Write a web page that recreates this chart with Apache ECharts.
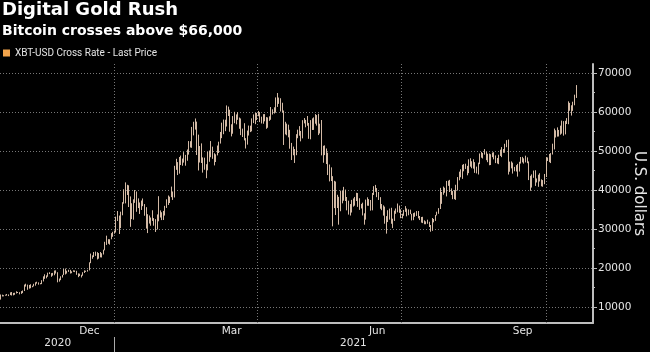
<!DOCTYPE html>
<html>
<head>
<meta charset="utf-8">
<title>Digital Gold Rush</title>
<script src="https://cdn.jsdelivr.net/npm/echarts@6/dist/echarts.min.js"></script>
<style>
  html, body { margin: 0; padding: 0; background: #000; }
  #main { width: 650px; height: 352px; }
</style>
</head>
<body>
<div id="main"></div>
<script>
  // XBT-USD daily bars, thousands of US dollars, 21 Oct 2020 .. 20 Oct 2021
  const firstDay = '2020-10-21'
  const lastAxisDay = '2021-10-30'
  const prevClose = 11.92

  const closeK = [
    12.82,12.97,12.93,13.11,13.03,13.08,13.65,13.27,13.44,13.55,13.78,
    13.74,13.55,14.02,14.13,15.58,15.57,14.83,15.48,15.33,15.29,15.70,16.28,16.32,16.07,15.96,16.72,17.65,17.80,17.82,18.62,18.64,18.37,18.36,19.11,18.73,17.15,17.11,17.72,18.18,19.63,
    18.80,19.20,19.45,18.70,19.15,19.35,19.19,18.32,18.55,18.26,18.06,18.80,19.14,19.25,19.42,21.31,22.81,23.14,23.87,23.48,22.80,23.78,23.24,23.73,24.66,26.44,26.27,27.08,27.36,28.84,29.00,
    29.37,32.13,32.78,31.97,33.99,36.82,39.37,40.80,40.25,38.36,35.57,33.92,37.32,39.19,36.83,36.18,35.79,36.63,36.07,35.55,30.83,33.01,32.07,32.29,32.37,32.57,30.43,33.47,34.32,34.27,33.11,
    33.54,35.51,37.47,36.93,38.14,39.27,38.90,46.20,46.48,44.92,47.91,47.51,47.11,48.72,47.95,49.20,52.15,51.68,55.89,56.10,57.54,54.21,48.83,49.71,47.09,46.34,46.19,45.14,
    49.63,48.38,50.54,48.56,48.93,48.91,51.21,52.25,54.82,56.01,57.81,57.33,61.24,59.30,55.91,56.80,58.87,57.86,58.35,58.31,57.52,54.53,54.74,52.77,51.70,55.14,55.97,55.95,57.75,58.92,58.92,
    59.10,59.38,57.60,58.76,59.06,58.19,56.05,58.32,58.25,59.79,60.20,59.89,63.50,62.99,63.08,61.53,60.11,56.15,55.63,56.43,53.79,51.73,51.15,50.11,49.00,54.02,55.03,54.82,53.56,57.75,
    57.83,56.63,57.20,53.33,57.42,56.40,57.36,58.80,58.23,55.86,56.70,49.15,49.72,49.88,46.76,46.46,43.54,42.91,37.00,40.78,37.30,37.54,34.77,38.71,38.40,39.29,38.44,35.70,34.62,35.68,37.33,
    36.69,37.58,39.19,36.85,35.55,35.86,33.56,33.40,37.35,36.70,37.34,35.55,39.10,40.22,40.41,38.35,38.05,35.79,35.62,35.70,31.68,32.51,33.72,34.66,31.64,32.19,34.65,34.43,35.87,35.04,
    33.57,33.90,34.67,35.29,33.75,34.24,33.86,32.88,33.80,33.52,34.24,33.16,32.70,32.82,31.78,31.42,31.53,31.80,30.82,29.81,32.11,32.31,33.58,34.29,35.35,37.34,39.41,40.00,40.01,42.24,41.63,
    39.97,39.20,38.15,39.75,40.87,42.82,44.56,43.80,46.37,45.59,45.59,44.43,47.79,47.10,47.05,46.00,44.70,44.80,46.72,49.34,48.91,49.32,49.55,47.71,48.96,46.94,49.06,48.90,48.83,47.05,47.17,
    48.85,49.33,50.03,49.94,51.75,52.63,46.81,46.09,46.39,44.88,45.20,46.06,44.96,47.09,48.18,47.78,47.27,48.28,47.26,42.84,40.69,43.57,44.90,42.84,42.72,43.21,42.24,41.03,41.56,43.79,
    48.12,47.71,48.20,49.11,51.51,55.36,53.81,53.97,54.97,54.77,57.49,56.04,57.40,57.32,61.59,60.89,61.55,62.03,64.26,66.40
  ]

  const highK = [
    13.21,13.16,13.02,13.16,13.34,13.22,13.76,13.84,13.62,13.65,14.03,
    13.86,13.81,14.07,14.24,15.75,15.97,15.74,15.66,15.83,15.46,15.95,16.34,16.48,16.32,16.13,16.88,17.86,18.39,18.11,18.80,18.91,18.68,18.75,19.35,19.40,18.92,17.30,17.88,18.26,19.75,
    19.85,19.31,19.55,19.52,19.16,19.41,19.38,19.28,18.63,18.56,18.27,18.92,19.39,19.30,19.53,21.46,23.70,23.24,24.10,24.20,24.07,23.83,24.10,23.79,24.71,26.72,28.29,27.39,27.37,28.94,29.28,
    29.60,33.16,34.61,33.44,34.44,36.88,40.18,41.95,41.33,41.20,38.35,36.60,37.60,40.00,39.61,37.85,36.80,37.30,37.83,36.39,35.59,33.80,33.46,32.94,34.80,32.79,32.53,33.73,38.41,34.76,34.29,
    34.64,35.93,37.61,38.59,38.29,40.87,39.62,46.20,48.00,47.15,48.46,48.83,48.06,49.71,49.00,50.38,52.54,52.51,56.17,57.49,58.33,57.53,54.19,51.27,51.95,48.35,48.29,46.61,
    49.78,50.11,52.54,51.11,49.42,49.15,51.40,52.38,54.88,57.26,58.06,58.01,61.68,61.38,60.58,56.85,58.95,60.04,59.38,59.98,58.57,58.34,55.74,57.12,53.30,55.23,56.52,56.49,58.36,59.38,59.82,
    59.75,60.27,59.98,58.80,59.44,59.46,58.69,58.60,58.88,61.27,60.68,61.20,63.73,64.86,63.70,63.52,62.37,60.37,57.48,57.02,56.75,55.43,52.07,51.13,50.50,54.31,55.46,56.37,55.13,57.90,
    58.45,57.98,58.97,57.19,57.91,58.36,58.61,59.46,59.21,59.53,56.99,57.94,51.33,51.44,50.64,49.56,46.54,45.80,43.55,42.35,42.17,38.77,38.24,39.83,39.77,40.80,40.10,38.20,37.26,36.39,37.46,
    37.84,38.22,39.29,39.21,37.88,36.44,36.75,34.02,37.53,38.12,37.66,37.44,39.25,40.98,41.30,40.49,39.48,38.17,36.41,36.06,35.74,33.30,34.81,35.22,35.44,32.64,34.69,35.26,36.54,36.01,
    35.04,33.91,34.89,35.87,35.26,35.02,34.96,33.89,34.07,34.23,34.59,34.61,33.33,33.08,33.13,32.21,31.96,32.39,31.86,31.02,32.82,32.58,33.60,34.43,35.35,40.55,39.49,40.88,40.58,42.32,42.40,
    42.60,40.41,39.73,39.97,41.34,43.31,44.70,45.31,46.46,46.64,46.74,46.19,47.86,48.13,47.37,47.88,47.14,45.99,47.02,49.36,49.76,49.50,50.48,49.80,49.29,49.35,49.17,49.60,49.68,48.87,48.19,
    49.04,50.34,51.00,50.49,51.84,52.78,52.92,47.27,47.33,47.01,45.92,46.37,46.70,47.23,48.45,48.49,48.12,48.80,48.36,47.33,43.64,44.00,44.98,45.06,42.96,43.92,44.30,42.73,42.54,44.11,
    48.44,48.34,49.25,49.46,51.87,55.75,55.31,56.05,55.40,56.49,57.79,57.65,57.73,58.43,62.73,62.33,61.72,62.63,64.43,66.90
  ]

  const lowK = [
    11.90,12.70,12.73,12.90,12.92,12.80,13.05,12.95,12.99,13.12,13.46,
    13.59,13.24,13.36,13.56,14.09,15.23,14.42,14.71,14.81,15.07,15.28,15.47,15.99,15.72,15.82,15.87,16.55,17.22,17.35,17.75,18.45,17.75,18.03,18.14,18.58,16.33,16.50,16.88,17.55,18.18,
    18.35,18.57,19.00,18.58,18.66,19.02,18.95,18.25,17.65,17.93,17.57,18.02,18.73,19.00,19.07,19.38,21.24,22.36,22.80,23.11,22.18,22.39,22.73,22.70,23.46,24.52,25.92,26.21,25.99,27.36,28.00,
    28.80,29.09,32.05,28.72,30.22,33.51,36.49,36.57,38.72,35.63,30.55,32.53,32.38,36.70,34.41,35.36,33.85,34.88,35.85,33.40,30.10,28.95,31.39,30.84,32.07,30.84,29.24,29.88,31.97,32.94,32.28,
    32.30,33.44,35.40,36.16,36.66,38.16,37.45,38.08,45.17,43.83,44.19,46.40,46.22,47.02,46.23,47.50,49.07,50.90,50.81,54.00,55.48,48.97,45.00,47.05,46.92,44.45,45.20,43.02,
    45.04,47.23,48.40,47.99,46.30,47.17,48.87,49.48,51.90,53.29,54.30,55.09,56.27,58.97,54.93,53.74,54.42,57.12,56.83,57.99,55.69,54.06,53.58,52.71,50.63,51.63,53.96,54.84,55.03,57.15,56.87,
    57.92,58.91,57.41,57.05,56.98,57.60,55.68,55.95,57.72,58.00,59.34,59.59,59.82,61.30,62.08,60.12,59.86,51.54,54.26,54.02,53.50,50.58,47.68,48.90,46.93,48.92,53.27,53.92,52.47,53.23,
    57.07,56.07,56.47,53.12,52.99,55.38,55.40,56.99,56.51,54.08,54.49,48.88,46.98,48.94,46.64,43.83,42.20,42.29,30.68,35.35,33.59,35.38,31.11,34.55,36.58,37.25,37.18,34.78,33.69,33.45,34.22,
    35.73,35.98,37.18,35.67,34.90,35.26,33.47,31.11,32.40,35.97,35.94,34.71,34.78,38.73,39.53,38.16,37.44,35.19,34.82,33.43,31.35,28.81,31.77,32.40,31.34,30.22,32.07,33.90,34.28,34.14,
    32.77,32.71,33.38,34.40,33.25,33.52,33.80,32.20,32.26,33.13,33.35,32.73,32.29,31.63,31.51,31.22,31.22,31.34,30.50,29.30,29.53,31.71,32.08,33.46,33.90,35.12,36.45,38.79,39.29,38.35,41.06,
    39.47,38.73,37.64,37.64,37.46,39.86,42.48,43.26,42.85,44.79,45.39,43.77,44.32,45.97,45.58,45.48,44.38,44.25,43.97,46.63,48.28,48.07,49.07,47.64,47.13,46.35,46.40,48.41,47.85,46.89,46.78,
    46.62,48.73,48.42,49.54,49.55,50.97,43.96,44.68,45.54,44.20,44.80,44.74,43.43,44.73,46.77,47.08,46.76,47.07,46.87,42.54,39.79,40.62,43.11,41.04,41.93,40.81,42.19,40.94,40.83,41.48,
    43.32,47.44,47.13,46.90,49.09,50.40,53.45,53.68,53.71,54.17,54.44,53.93,54.25,56.92,56.86,60.31,59.08,60.28,61.72,63.60
  ]

  const monthLabelDays = ['2020-12-16', '2021-03-16', '2021-06-16', '2021-09-16']
  const monthLabelTexts = ['Dec', 'Mar', 'Jun', 'Sep']
  const quarterDays = ['2021-01-01', '2021-04-01', '2021-07-01', '2021-10-01']
  const yearLabelDays = ['2020-11-26', '2021-06-01']
  const yearSplitDay = '2021-01-01'
  const yTicks = [10000, 20000, 30000, 40000, 50000, 60000, 70000]
  const yMinorTicks = [15000, 25000, 35000, 45000, 55000, 65000]

  const seriesName = 'XBT-USD Cross Rate - Last Price'
  const barColor = '#d3baa6'
  const axisColor = '#bdbdbd'
  const textColor = '#e4e4e4'
  const gridColor = '#777'
  const font = 'DejaVu Sans'

  // one category per calendar day
  const days = []
  for (let t = Date.parse(firstDay); t <= Date.parse(lastAxisDay); t += 86400000) {
    days.push(new Date(t).toISOString().slice(0, 10))
  }

  // candlestick wants [open, close, low, high]; a day opens where the last one closed
  const ohlc = closeK.map((c, i) => [
    (i ? closeK[i - 1] : prevClose) * 1000, c * 1000, lowK[i] * 1000, highK[i] * 1000
  ])

  // dotted grid: horizontal at each label, vertical at quarter starts
  const gridMarks = yTicks.map(v => ({ yAxis: v })).concat(quarterDays.map(d => ({ xAxis: d })))

  const myChart = echarts.init(document.getElementById('main'))

  const option = {
    backgroundColor: '#000',
    animation: false,
    title: [
      {
        text: 'Digital Gold Rush', left: 2, top: 1, padding: 0,
        textStyle: { color: '#fff', fontSize: 18, fontWeight: 'bold', fontFamily: font }
      },
      {
        text: 'Bitcoin crosses above $66,000', left: 2, top: 24, padding: 0,
        textStyle: { color: '#fff', fontSize: 14, fontWeight: 'bold', fontFamily: font }
      }
    ],
    legend: {
      left: 3, top: 48, padding: 0, icon: 'rect', itemWidth: 7, itemHeight: 7,
      selectedMode: false,
      data: [{ name: seriesName, itemStyle: { color: '#f2a44c', borderWidth: 0 } }],
      textStyle: { color: textColor, fontSize: 10, fontFamily: 'Roboto' }
    },
    // v6 would otherwise shrink the grid to fit the axis name
    grid: { left: 0, right: 57, top: 64, bottom: 29, outerBoundsMode: 'none' },
    xAxis: [
      {
        type: 'category',
        data: days,
        boundaryGap: true,
        axisLine: { lineStyle: { color: axisColor, width: 2 } },
        axisTick: {
          interval: (i, v) => v.slice(8) === '01',
          length: 3,
          lineStyle: { color: axisColor }
        },
        axisLabel: {
          interval: (i, v) => monthLabelDays.includes(v),
          formatter: v => monthLabelTexts[monthLabelDays.indexOf(v)],
          color: textColor, fontSize: 10.5, fontFamily: font, margin: 3
        },
        splitLine: { show: false }
      },
      {
        // year row under the months
        type: 'category',
        data: days,
        position: 'bottom',
        offset: 14,
        axisLine: { show: true, lineStyle: { opacity: 0 } },
        axisTick: {
          show: true,
          alignWithLabel: true,
          interval: (i, v) => v === yearSplitDay,
          length: 15,
          lineStyle: { color: '#aaa', width: 1 }
        },
        axisLabel: {
          interval: (i, v) => yearLabelDays.includes(v),
          formatter: v => v.slice(0, 4),
          color: textColor, fontSize: 10.5, fontFamily: font, margin: 1
        },
        splitLine: { show: false }
      }
    ],
    yAxis: [
      {
        type: 'value',
        position: 'right',
        min: 5900,
        max: 72300,
        name: 'U.S. dollars',
        nameLocation: 'middle',
        nameRotate: -90,
        nameGap: 38,
        nameMoveOverlap: false,
        nameTextStyle: { color: textColor, fontSize: 15, fontFamily: font },
        axisLine: { show: true, lineStyle: { color: axisColor, width: 2 } },
        axisTick: { show: true, customValues: yTicks, length: 4, lineStyle: { color: axisColor } },
        axisLabel: {
          customValues: yTicks,
          formatter: v => String(v),
          color: textColor, fontSize: 10.5, fontFamily: font, margin: 5
        },
        splitLine: { show: false }
      },
      {
        // minor ticks halfway between the labels
        type: 'value',
        position: 'right',
        min: 5900,
        max: 72300,
        axisLine: { show: false },
        axisTick: { show: true, customValues: yMinorTicks, length: 2, lineStyle: { color: axisColor } },
        axisLabel: { show: false },
        splitLine: { show: false }
      }
    ],
    series: [
      {
        name: seriesName,
        type: 'candlestick',
        data: ohlc,
        barWidth: 1.2,
        itemStyle: {
          color: barColor, color0: barColor,
          borderColor: barColor, borderColor0: barColor,
          borderWidth: 1
        },
        emphasis: { disabled: true },
        markLine: {
          silent: true,
          symbol: 'none',
          z: 1,
          label: { show: false },
          emphasis: { disabled: true },
          lineStyle: { color: gridColor, type: [1, 2], width: 1 },
          data: gridMarks
        }
      }
    ]
  }

  myChart.setOption(option)
</script>
</body>
</html>
